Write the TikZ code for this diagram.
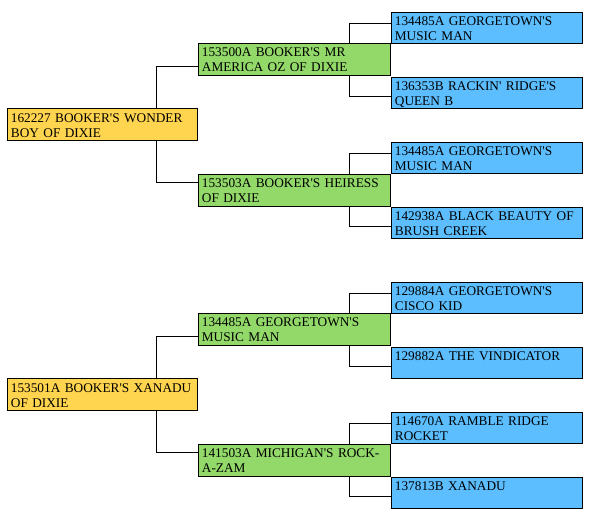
\documentclass[tikz,border=0pt]{standalone}
\usepackage{fontspec}
\setmainfont{Liberation Serif}[Ligatures=TeXOff]
\usepackage{xcolor}
\usetikzlibrary{calc}
\definecolor{dogyellow}{HTML}{FFD44F}
\definecolor{parentgreen}{HTML}{92D96A}
\definecolor{grandblue}{HTML}{5CBEFF}

\begin{document}
\begin{tikzpicture}[x=1pt, y=-1pt, line width=0.8pt,
        pbox/.style={draw, rectangle, anchor=north west, align=left, inner xsep=3.5pt, inner ysep=2pt,
            font=\fontsize{13.3}{15}\selectfont},
        dog/.style={pbox, fill=dogyellow, text width=183pt, text height=12pt, text depth=16pt},
        parent/.style={pbox, fill=parentgreen, text width=185pt, text height=11pt, text depth=17pt},
        grand/.style={pbox, fill=grandblue, text width=184pt, text height=11pt, text depth=16pt}]
        \useasboundingbox (0,0) rectangle (591,519);

        % first pedigree
        \node[dog] (d1) at (7,108) {162227 BOOKER'S WONDER\\BOY OF DIXIE};
        \node[parent] (s1) at (198,43) {153500A BOOKER'S MR\\AMERICA OZ OF DIXIE};
        \node[parent] (s2) at (198,174) {153503A BOOKER'S HEIRESS\\OF DIXIE};
        \node[grand] (g1) at (391,12) {134485A GEORGETOWN'S\\MUSIC MAN};
        \node[grand] (g2) at (391,77) {136353B RACKIN' RIDGE'S\\QUEEN B};
        \node[grand] (g3) at (391,142) {134485A GEORGETOWN'S\\MUSIC MAN};
        \node[grand] (g4) at (391,207) {142938A BLACK BEAUTY OF\\BRUSH CREEK};

        \draw (d1.north-|156,0) |- ([yshift=-7pt]s1.west);
        \draw (d1.south-|156,0) |- ([yshift=8pt]s2.west);
        \draw (s1.north-|349,0) |- ([yshift=4.5pt]g1.west);
        \draw (s1.south-|349,0) |- ([yshift=-3.5pt]g2.west);
        \draw (s2.north-|349,0) |- ([yshift=4.5pt]g3.west);
        \draw (s2.south-|349,0) |- ([yshift=-3.5pt]g4.west);

        % second pedigree
        \node[dog] (d2) at (7,378) {153501A BOOKER'S XANADU\\OF DIXIE};
        \node[parent] (s3) at (198,313) {134485A GEORGETOWN'S\\MUSIC MAN};
        \node[parent] (s4) at (198,444) {141503A MICHIGAN'S ROCK-\\A-ZAM};
        \node[grand] (g5) at (391,282) {129884A GEORGETOWN'S\\CISCO KID};
        \node[grand] (g6) at (391,347) {129882A THE VINDICATOR};
        \node[grand] (g7) at (391,412) {114670A RAMBLE RIDGE\\ROCKET};
        \node[grand] (g8) at (391,477) {137813B XANADU};

        \draw (d2.north-|156,0) |- ([yshift=-7pt]s3.west);
        \draw (d2.south-|156,0) |- ([yshift=8pt]s4.west);
        \draw (s3.north-|349,0) |- ([yshift=4.5pt]g5.west);
        \draw (s3.south-|349,0) |- ([yshift=-3.5pt]g6.west);
        \draw (s4.north-|349,0) |- ([yshift=4.5pt]g7.west);
        \draw (s4.south-|349,0) |- ([yshift=-3.5pt]g8.west);
\end{tikzpicture}
\end{document}
